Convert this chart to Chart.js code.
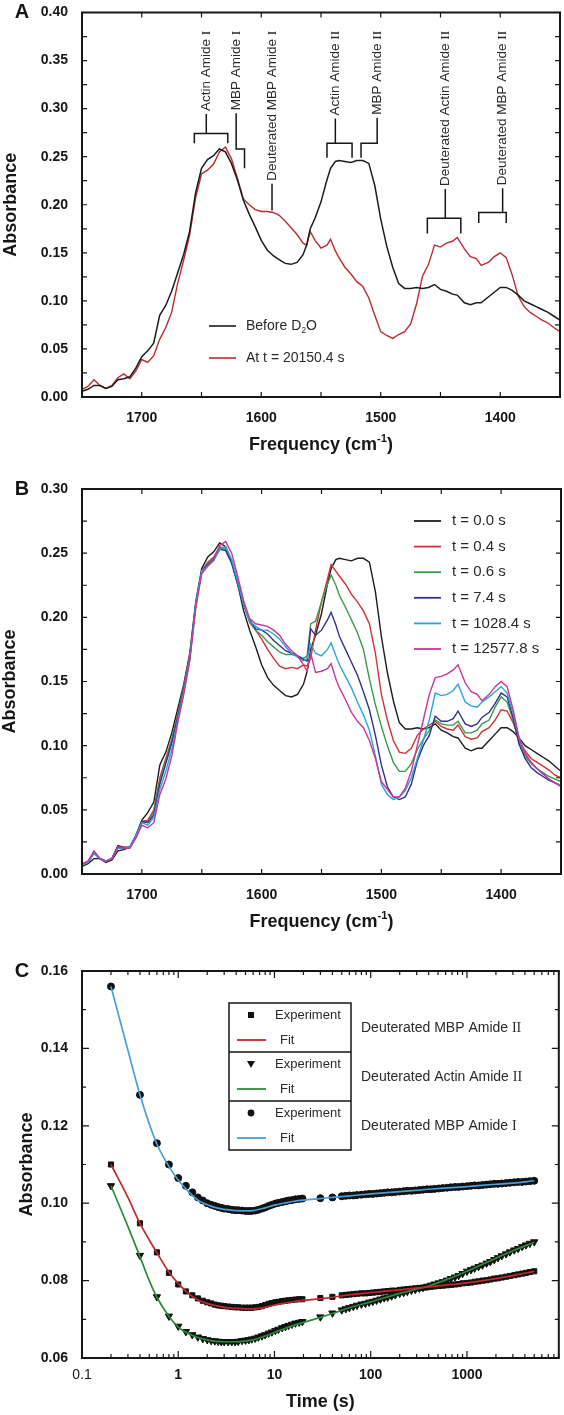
<!DOCTYPE html>
<html><head><meta charset="utf-8">
<script src="https://cdn.jsdelivr.net/npm/chart.js@4.4.1/dist/chart.umd.min.js"></script>
<style>
html,body{margin:0;padding:0;background:#fff;}
body{width:564px;height:1415px;position:relative;overflow:hidden;}
.p{position:absolute;left:0;width:564px;}
canvas{display:block;}
</style></head><body>
<div class="p" style="top:-10px;height:470px"><canvas id="cA"></canvas></div>
<div class="p" style="top:460px;height:475px"><canvas id="cB"></canvas></div>
<div class="p" style="top:935px;height:480px"><canvas id="cC"></canvas></div>
<script>
// ---------- DATA ----------
const freq = [1750,1745,1740,1735,1730,1725,1720,1715,1710,1705,
 1700,1695,1690,1685,1680,1675,1670,1665,1660,1655,
 1650,1645,1640,1635,1630,1625,1620,1615,1610,1605,
 1600,1595,1590,1585,1580,1575,1570,1565,1562,1559,
 1555,1550,1545,1542,1538,1535,1530,1525,1520,1515,
 1510,1505,1500,1495,1490,1485,1480,1475,1470,1465,
 1460,1455,1450,1445,1440,1436,1430,1425,1420,1416,
 1410,1405,1400,1395,1390,1385,1380,1375,1370,1365,
 1360,1355,1350];

const absBeforeD2O = [0.006,0.008,0.012,0.012,0.009,0.011,0.018,0.019,0.021,0.030,
 0.042,0.048,0.056,0.085,0.095,0.110,0.129,0.148,0.172,0.212,
 0.238,0.247,0.251,0.258,0.255,0.243,0.226,0.205,0.190,0.177,
 0.163,0.153,0.147,0.143,0.139,0.138,0.140,0.148,0.158,0.175,
 0.186,0.203,0.226,0.238,0.245,0.246,0.245,0.244,0.246,0.246,
 0.243,0.220,0.185,0.157,0.135,0.118,0.113,0.113,0.114,0.113,
 0.114,0.117,0.112,0.110,0.107,0.106,0.098,0.096,0.098,0.098,
 0.104,0.109,0.114,0.114,0.111,0.106,0.100,0.097,0.094,0.091,
 0.088,0.084,0.080];

const absAt20150s = [0.008,0.011,0.018,0.012,0.009,0.012,0.020,0.024,0.019,0.027,
 0.039,0.036,0.043,0.060,0.072,0.088,0.118,0.142,0.168,0.207,
 0.232,0.236,0.242,0.255,0.260,0.248,0.228,0.206,0.200,0.195,
 0.193,0.193,0.192,0.189,0.183,0.176,0.169,0.160,0.158,0.172,
 0.163,0.155,0.158,0.164,0.152,0.145,0.135,0.128,0.120,0.115,
 0.103,0.085,0.068,0.064,0.061,0.065,0.068,0.076,0.097,0.126,
 0.138,0.158,0.156,0.160,0.162,0.166,0.154,0.146,0.144,0.137,
 0.140,0.146,0.150,0.145,0.127,0.105,0.094,0.088,0.084,0.080,
 0.077,0.072,0.068];

const absT0s = absBeforeD2O;
const absT04s = [0.007,0.009,0.017,0.012,0.010,0.012,0.022,0.021,0.021,0.030,
 0.041,0.042,0.050,0.075,0.090,0.105,0.125,0.146,0.170,0.210,
 0.236,0.243,0.247,0.255,0.254,0.244,0.228,0.210,0.196,0.190,
 0.183,0.175,0.168,0.162,0.160,0.161,0.160,0.163,0.162,0.168,
 0.190,0.212,0.230,0.241,0.236,0.232,0.226,0.218,0.212,0.205,
 0.195,0.172,0.140,0.120,0.104,0.095,0.094,0.098,0.108,0.113,
 0.116,0.119,0.115,0.113,0.112,0.116,0.107,0.105,0.106,0.111,
 0.114,0.120,0.128,0.127,0.118,0.104,0.096,0.090,0.087,0.084,
 0.081,0.077,0.075];
const absT06s = [0.007,0.009,0.016,0.012,0.010,0.012,0.021,0.020,0.021,0.030,
 0.040,0.041,0.048,0.072,0.088,0.104,0.124,0.145,0.169,0.210,
 0.236,0.242,0.246,0.254,0.253,0.243,0.227,0.210,0.197,0.190,
 0.186,0.181,0.177,0.173,0.171,0.171,0.170,0.168,0.170,0.195,
 0.197,0.212,0.226,0.233,0.225,0.217,0.208,0.198,0.188,0.175,
 0.152,0.132,0.115,0.100,0.087,0.080,0.080,0.086,0.097,0.105,
 0.112,0.120,0.117,0.116,0.116,0.119,0.110,0.110,0.112,0.117,
 0.120,0.130,0.138,0.134,0.120,0.102,0.092,0.086,0.082,0.079,
 0.076,0.074,0.072];
const absT74s = [0.007,0.009,0.017,0.012,0.010,0.012,0.022,0.020,0.021,0.030,
 0.041,0.040,0.046,0.070,0.086,0.102,0.122,0.143,0.168,0.210,
 0.236,0.241,0.245,0.253,0.252,0.242,0.226,0.210,0.198,0.191,
 0.190,0.187,0.182,0.178,0.174,0.172,0.170,0.167,0.166,0.191,
 0.186,0.190,0.198,0.204,0.194,0.185,0.175,0.165,0.155,0.142,
 0.128,0.108,0.085,0.068,0.060,0.058,0.060,0.070,0.088,0.100,
 0.108,0.123,0.119,0.119,0.121,0.127,0.117,0.115,0.117,0.122,
 0.126,0.133,0.141,0.138,0.122,0.101,0.090,0.083,0.079,0.076,
 0.073,0.071,0.069];
const absT1028s = [0.007,0.009,0.016,0.012,0.010,0.012,0.020,0.020,0.021,0.030,
 0.040,0.038,0.044,0.066,0.080,0.097,0.120,0.142,0.168,0.210,
 0.236,0.240,0.244,0.253,0.255,0.245,0.228,0.210,0.197,0.193,
 0.190,0.190,0.187,0.183,0.177,0.172,0.169,0.166,0.168,0.179,
 0.172,0.170,0.175,0.180,0.170,0.163,0.154,0.145,0.134,0.124,
 0.112,0.092,0.070,0.062,0.058,0.060,0.065,0.075,0.090,0.104,
 0.120,0.141,0.139,0.140,0.143,0.148,0.134,0.131,0.130,0.134,
 0.138,0.142,0.146,0.141,0.125,0.106,0.094,0.087,0.082,0.078,
 0.074,0.071,0.069];
const absT12577s = [0.008,0.010,0.018,0.012,0.010,0.012,0.021,0.020,0.020,0.028,
 0.038,0.036,0.040,0.062,0.074,0.092,0.118,0.140,0.166,0.207,
 0.234,0.240,0.245,0.256,0.259,0.250,0.232,0.213,0.199,0.195,
 0.194,0.193,0.190,0.186,0.179,0.174,0.170,0.163,0.158,0.172,
 0.157,0.158,0.160,0.164,0.152,0.145,0.136,0.126,0.119,0.114,
 0.104,0.090,0.072,0.066,0.060,0.060,0.067,0.080,0.100,0.120,
 0.140,0.153,0.154,0.156,0.159,0.163,0.149,0.142,0.140,0.135,
 0.140,0.146,0.150,0.146,0.128,0.106,0.094,0.087,0.082,0.078,
 0.074,0.071,0.068];
const seriesBLabels = ['t = 0.0 s','t = 0.4 s','t = 0.6 s','t = 7.4 s','t = 1028.4 s','t = 12577.8 s'];

const timeS = [0.2,0.4,0.6,0.8,1,1.2,1.4,1.6,1.8,2,
 2.2,2.4,2.6,2.8,3,3.3,3.6,3.9,4.2,4.6,
 5,5.4,5.8,6.3,6.8,7.4,8,8.7,9.4,10.2,
 11,12,13,14,15.2,16.5,18,19.5,30,40,
 50,55,60,66,72,80,88,96,105,115,
 126,138,150,165,180,200,220,240,265,290,
 320,350,385,420,460,510,560,620,680,750,
 820,900,1000,1100,1200,1320,1450,1600,1750,1920,
 2100,2300,2550,2800,3100,3400,3750,4100,4500,5000];
const expMBPAmideI = [0.156,0.128,0.1155,0.110,0.1065,0.1045,0.1028,0.1015,0.1007,0.1000,
 0.0996,0.0993,0.0990,0.0988,0.0986,0.0985,0.0983,0.0982,0.0982,0.0981,
 0.0980,0.0980,0.0980,0.0981,0.0983,0.0986,0.0989,0.0993,0.0996,0.0999,
 0.1001,0.1003,0.1005,0.1007,0.1008,0.1010,0.1011,0.1012,0.1013,0.1015,
 0.1018,0.1019,0.1020,0.1020,0.1021,0.1022,0.1023,0.1024,0.1024,0.1025,
 0.1026,0.1027,0.1028,0.1028,0.1029,0.1030,0.1031,0.1032,0.1032,0.1033,
 0.1034,0.1035,0.1036,0.1036,0.1037,0.1038,0.1039,0.1040,0.1041,0.1042,
 0.1042,0.1043,0.1044,0.1045,0.1046,0.1046,0.1047,0.1048,0.1049,0.1050,
 0.1050,0.1051,0.1052,0.1053,0.1054,0.1055,0.1055,0.1056,0.1057,0.1058];
const expMBPAmideII = [0.110,0.0948,0.0873,0.0820,0.0790,0.0772,0.0762,0.0754,0.0748,0.0744,
 0.0741,0.0738,0.0736,0.0735,0.0734,0.0733,0.0732,0.0731,0.0731,0.0730,
 0.0730,0.0730,0.0730,0.0731,0.0732,0.0734,0.0737,0.0740,0.0742,0.0744,
 0.0745,0.0747,0.0748,0.0749,0.0750,0.0751,0.0752,0.0752,0.0755,0.0758,
 0.0762,0.0763,0.0764,0.0765,0.0766,0.0767,0.0767,0.0768,0.0769,0.0770,
 0.0771,0.0772,0.0773,0.0774,0.0774,0.0776,0.0777,0.0778,0.0779,0.0780,
 0.0781,0.0782,0.0783,0.0784,0.0785,0.0786,0.0787,0.0788,0.0789,0.0790,
 0.0791,0.0793,0.0794,0.0795,0.0797,0.0798,0.0800,0.0801,0.0803,0.0805,
 0.0806,0.0808,0.0810,0.0812,0.0814,0.0816,0.0818,0.0820,0.0822,0.0824];
const expActinAmideII = [0.1045,0.0865,0.0758,0.0708,0.0682,0.0668,0.0660,0.0654,0.0650,0.0647,
 0.0645,0.0644,0.0643,0.0642,0.0642,0.0642,0.0642,0.0642,0.0643,0.0645,
 0.0646,0.0647,0.0649,0.0651,0.0654,0.0657,0.0660,0.0664,0.0667,0.0671,
 0.0674,0.0678,0.0681,0.0684,0.0687,0.0690,0.0692,0.0694,0.0706,0.0716,
 0.0724,0.0727,0.0730,0.0733,0.0736,0.0739,0.0741,0.0744,0.0746,0.0749,
 0.0752,0.0755,0.0757,0.0760,0.0763,0.0767,0.0769,0.0772,0.0775,0.0777,
 0.0780,0.0782,0.0785,0.0788,0.0791,0.0794,0.0797,0.0801,0.0805,0.0809,
 0.0813,0.0818,0.0824,0.0828,0.0832,0.0836,0.0840,0.0845,0.0849,0.0854,
 0.0859,0.0864,0.0869,0.0874,0.0879,0.0883,0.0888,0.0892,0.0896,0.0900];

const fitTimes = [0.2,0.3,0.4,0.5,0.6,0.8,1,1.3,1.6,2,2.5,3,4,5,6,8,10,13,16,20,30,40,60,100,200,400,700,1000,2000,3000,5000];
const fitMBPAmideI = [0.156,0.1395,0.128,0.1205,0.1153,0.1095,0.106,0.1028,0.1008,0.0996,0.0988,0.0984,0.0981,0.0980,0.0981,0.0988,0.0995,0.1001,0.1005,0.1008,0.1012,0.1015,0.1019,0.1024,0.1030,0.1036,0.1040,0.1043,0.1049,0.1052,0.1058];
const fitMBPAmideII = [0.110,0.1015,0.0948,0.0905,0.0872,0.0822,0.0792,0.0765,0.0750,0.0741,0.0735,0.0731,0.0728,0.0727,0.0727,0.0731,0.0737,0.0742,0.0746,0.0749,0.0753,0.0757,0.0763,0.0769,0.0776,0.0784,0.0790,0.0794,0.0805,0.0813,0.0824];
const fitActinAmideII = [0.1045,0.094,0.0862,0.080,0.0757,0.0708,0.068,0.0662,0.0653,0.0647,0.0643,0.0642,0.0642,0.0644,0.0647,0.0657,0.0666,0.0677,0.0685,0.0692,0.0705,0.0715,0.0730,0.0745,0.0767,0.0786,0.0808,0.0824,0.0858,0.0877,0.0899];
const seriesCLabels = ['Deuterated MBP Amide II','Deuterated Actin Amide II','Deuterated MBP Amide I'];

const freqTicks = [1700,1600,1500,1400];
const absTicksA = [0,0.05,0.10,0.15,0.20,0.25,0.30,0.35,0.40];
const absTicksB = [0,0.05,0.10,0.15,0.20,0.25,0.30];
const absTicksC = [0.06,0.08,0.10,0.12,0.14,0.16];
const timeTicks = [0.1,1,10,100,1000];

// annotation labels of panel A (positions in data units)
const annLabels = ['Actin Amide I','MBP Amide I','Deuterated MBP Amide I','Actin Amide II','MBP Amide II','Deuterated Actin Amide II','Deuterated MBP Amide II'];
const annFreq = [1646,1621,1591,1538,1503,1446,1398];

// ---------- HELPERS ----------
const FONT = '"Liberation Sans", Arial, Helvetica, sans-serif';
const SERIF = '"Liberation Serif", "Times New Roman", serif';
const INK = '#161616';
const pts = (xs, ys) => xs.map((x, i) => ({x, y: ys[i]}));

function fontFor(p, size, weight) {
  const s = (p.sup || p.sub) ? size * 0.62 : size;
  return `${weight} ${s}px ${p.serif ? SERIF : FONT}`;
}
function richWidth(c, parts, size, weight) {
  let w = 0;
  parts.forEach(p => { c.font = fontFor(p, size, weight); w += c.measureText(p.t).width; });
  return w;
}
function drawRich(c, parts, x, y, size, weight, align) {
  const w = richWidth(c, parts, size, weight);
  let cx = align === 'center' ? x - w / 2 : (align === 'right' ? x - w : x);
  c.textAlign = 'left'; c.textBaseline = 'middle';
  parts.forEach(p => {
    c.font = fontFor(p, size, weight);
    const dy = p.sup ? -size * 0.32 : (p.sub ? size * 0.3 : 0);
    c.fillText(p.t, cx, y + dy);
    cx += c.measureText(p.t).width;
  });
  return w;
}
function romanParts(label) {
  const m = label.match(/^(.*\s)(I+)$/);
  return m ? [{t: m[1]}, {t: m[2], serif: true}] : [{t: label}];
}

function decor(cfg) {
  return {
    id: 'decor',
    afterDraw(chart) {
      const c = chart.ctx, a = chart.chartArea, X = chart.scales.x, Y = chart.scales.y;
      c.save();
      c.strokeStyle = INK; c.lineWidth = 1.2;
      c.beginPath();
      cfg.xTicks.forEach(([v, len]) => { const p = X.getPixelForValue(v); c.moveTo(p, a.bottom); c.lineTo(p, a.bottom - len); c.moveTo(p, a.top); c.lineTo(p, a.top + len); });
      cfg.yTicks.forEach(([v, len]) => { const p = Y.getPixelForValue(v); c.moveTo(a.left, p); c.lineTo(a.left + len, p); c.moveTo(a.right, p); c.lineTo(a.right - len, p); });
      c.stroke();
      c.lineWidth = 2;
      c.strokeRect(a.left, a.top, a.right - a.left, a.bottom - a.top);
      c.fillStyle = INK;
      c.save(); c.translate(cfg.yTitleX, (a.top + a.bottom) / 2); c.rotate(-Math.PI / 2);
      c.font = `bold 18px ${FONT}`; c.textAlign = 'center'; c.textBaseline = 'middle'; c.fillText('Absorbance', 0, 0);
      c.restore();
      drawRich(c, cfg.xTitle, (a.left + a.right) / 2, a.bottom + cfg.xTitleDy, 18, 'bold', 'center');
      c.font = `bold 20px ${FONT}`; c.textAlign = 'center'; c.textBaseline = 'middle';
      c.fillText(cfg.letter, 22, a.top);
      if (cfg.extra) cfg.extra(chart, c, a, X, Y);
      c.restore();
    }
  };
}

function every(lo, hi, step, len) { const r = []; for (let v = lo; v <= hi + 1e-9; v += step) r.push([+v.toFixed(4), len]); return r; }

const tickFont = {family: FONT, size: 14, weight: 'bold'};
function linX(padding, h) {
  return {type: 'linear', reverse: true, min: 1350, max: 1750,
    grid: {display: false, drawTicks: false}, border: {display: false},
    afterBuildTicks: s => { s.ticks = freqTicks.map(v => ({value: v})); },
    afterFit: s => { s.height = h; },
    ticks: {padding, color: INK, font: tickFont, maxRotation: 0, autoSkip: false, callback: v => String(v)}};
}
function linY(min, max, arr) {
  return {type: 'linear', min, max,
    grid: {display: false, drawTicks: false}, border: {display: false},
    afterBuildTicks: s => { s.ticks = arr.map(v => ({value: v})); },
    afterFit: s => { s.width = 82; },
    ticks: {padding: 14, color: INK, font: tickFont, autoSkip: false, callback: v => Number(v).toFixed(2)}};
}
const baseOpts = {responsive: true, maintainAspectRatio: false, animation: false,
  plugins: {legend: {display: false}, tooltip: {enabled: false}}};
const lineDs = (label, data, color, w) => ({label, data, borderColor: color, backgroundColor: color, borderWidth: w || 1.4, pointRadius: 0, tension: 0, fill: false});

// ---------- PANEL A ----------
new Chart(document.getElementById('cA'), {
  type: 'line',
  data: {datasets: [
    lineDs('Before D2O', pts(freq, absBeforeD2O), '#1c1c1c', 1.5),
    lineDs('At t = 20150.4 s', pts(freq, absAt20150s), '#bb2a2e', 1.4)
  ]},
  options: {...baseOpts, layout: {padding: {top: 22.5, right: 4, left: 0, bottom: 0}},
    scales: {x: linX(13, 63), y: linY(0, 0.40, absTicksA)}},
  plugins: [decor({
    letter: 'A', yTitleX: 11, xTitleDy: 48,
    xTitle: [{t: 'Frequency (cm'}, {t: '-1', sup: true}, {t: ')'}],
    xTicks: every(1350, 1750, 50, 5), yTicks: every(0, 0.40, 0.025, 5),
    extra: (chart, c, a, X, Y) => {
      const top = Y.getPixelForValue(0.381);
      const geo = [
        {type: 'br', f1: 1656, f2: 1628, yb: 0.274, yt: 0.264},
        {type: 'el', f2: 1614, yb: 0.258, yt: 0.238},
        {type: 'st', yb: 0.194},
        {type: 'br', f1: 1545, f2: 1524, yb: 0.264, yt: 0.249},
        {type: 'el', f2: 1516.5, yb: 0.264, yt: 0.249},
        {type: 'br', f1: 1461, f2: 1433, yb: 0.186, yt: 0.170},
        {type: 'br', f1: 1418, f2: 1395, yb: 0.192, yt: 0.181}
      ];
      c.strokeStyle = INK; c.lineWidth = 1.5;
      annLabels.forEach((lab, i) => {
        const x = X.getPixelForValue(annFreq[i]);
        const parts = romanParts(lab);
        const w = richWidth(c, parts, 13.5, 'normal');
        c.fillStyle = '#2a2a2a';
        c.save(); c.translate(x, top); c.rotate(-Math.PI / 2);
        drawRich(c, parts, -w, 0, 13.5, 'normal', 'left');
        c.restore();
        const g = geo[i];
        const y0 = top + w + 3, yb = Y.getPixelForValue(g.yb);
        c.beginPath(); c.moveTo(x, y0); c.lineTo(x, yb);
        if (g.type === 'br') {
          const x1 = X.getPixelForValue(g.f1), x2 = X.getPixelForValue(g.f2), yt = Y.getPixelForValue(g.yt);
          c.moveTo(x1, yt); c.lineTo(x1, yb); c.lineTo(x2, yb); c.lineTo(x2, yt);
        } else if (g.type === 'el') {
          const x2 = X.getPixelForValue(g.f2), yt = Y.getPixelForValue(g.yt);
          c.lineTo(x2, yb); c.lineTo(x2, yt);
        }
        c.stroke();
      });
      const ds = chart.data.datasets;
      const rows = [[a.top + 313.5, [{t: 'Before D'}, {t: '2', sub: true}, {t: 'O'}]], [a.top + 345.5, [{t: 'At t = 20150.4 s'}]]];
      rows.forEach(([y, parts], i) => {
        c.strokeStyle = ds[i].borderColor; c.lineWidth = 1.6;
        c.beginPath(); c.moveTo(209, y); c.lineTo(236, y); c.stroke();
        c.fillStyle = '#2a2a2a';
        drawRich(c, parts, 246, y, 14, 'normal', 'left');
      });
    }
  })]
});

// ---------- PANEL B ----------
const colorsB = ['#1c1c1c', '#cf3338', '#3b9a4a', '#34318c', '#2aa3df', '#c7369c'];
const seriesB = [absT0s, absT04s, absT06s, absT74s, absT1028s, absT12577s];
new Chart(document.getElementById('cB'), {
  type: 'line',
  data: {datasets: seriesB.map((s, i) => lineDs(seriesBLabels[i], pts(freq, s), colorsB[i], 1.4)).reverse()},
  options: {...baseOpts, layout: {padding: {top: 29, right: 3, left: 0, bottom: 0}},
    scales: {x: linX(13, 61), y: linY(0, 0.30, absTicksB)}},
  plugins: [decor({
    letter: 'B', yTitleX: 10, xTitleDy: 48,
    xTitle: [{t: 'Frequency (cm'}, {t: '-1', sup: true}, {t: ')'}],
    xTicks: every(1350, 1750, 50, 5), yTicks: every(0, 0.30, 0.025, 5),
    extra: (chart, c, a) => {
      seriesBLabels.forEach((lab, i) => {
        const y = a.top + 32 + i * 25.6;
        c.strokeStyle = colorsB[i]; c.lineWidth = 1.8;
        c.beginPath(); c.moveTo(414, y); c.lineTo(441, y); c.stroke();
        c.fillStyle = '#2a2a2a';
        drawRich(c, [{t: lab}], 452, y, 15, 'normal', 'left');
      });
    }
  })]
});

// ---------- PANEL C ----------
const fitColors = ['#c3282d', '#2f8b3a', '#4a9fd8'];
const expSeries = [expMBPAmideII, expActinAmideII, expMBPAmideI];
const fitSeries = [fitMBPAmideII, fitActinAmideII, fitMBPAmideI];
const markerStyles = [{s: 'rect', r: 3.6, rot: 0}, {s: 'triangle', r: 4.2, rot: 180}, {s: 'circle', r: 3.5, rot: 0}];
const cMinorX = [];
timeTicks.forEach(d => { for (let k = 2; k <= 9; k++) { if (k * d <= 9000) cMinorX.push([+(k * d).toPrecision(3), 4]); } });

new Chart(document.getElementById('cC'), {
  type: 'scatter',
  data: {datasets: [
    ...fitSeries.map((s, i) => ({type: 'line', label: 'Fit ' + seriesCLabels[i], data: pts(fitTimes, s), borderColor: fitColors[i], borderWidth: 1.7, pointRadius: 0, cubicInterpolationMode: 'monotone', fill: false})),
    ...expSeries.map((s, i) => ({type: 'scatter', label: 'Experiment ' + seriesCLabels[i], data: pts(timeS, s), pointStyle: markerStyles[i].s, pointRadius: markerStyles[i].r, pointRotation: markerStyles[i].rot, backgroundColor: '#111', borderColor: '#111', borderWidth: 1}))
  ]},
  options: {...baseOpts, layout: {padding: {top: 36, right: 2, left: 0, bottom: 0}},
    scales: {
      x: {type: 'logarithmic', min: 0.1, max: 9000,
        grid: {display: false, drawTicks: false}, border: {display: false},
        afterBuildTicks: s => { s.ticks = timeTicks.map(v => ({value: v})); },
        afterFit: s => { s.height = 57; },
        ticks: {padding: 9, color: INK, autoSkip: false, maxRotation: 0,
          font: ctx => ({family: FONT, size: 14, weight: (ctx.tick && ctx.tick.value === 0.1) ? 'normal' : 'bold'}),
          callback: v => String(v)}},
      y: linY(0.06, 0.16, absTicksC)
    }},
  plugins: [decor({
    letter: 'C', yTitleX: 27, xTitleDy: 44,
    xTitle: [{t: 'Time (s)'}],
    xTicks: timeTicks.map(v => [v, 7]).concat(cMinorX), yTicks: every(0.06, 0.16, 0.02, 7).concat(every(0.07, 0.15, 0.02, 4)),
    extra: (chart, c, a) => {
      const bx = 229, by = a.top + 32, bw = 122, sh = 49;
      c.strokeStyle = INK; c.lineWidth = 1.5;
      c.strokeRect(bx, by, bw, sh * 3);
      c.beginPath(); c.moveTo(bx, by + sh); c.lineTo(bx + bw, by + sh); c.moveTo(bx, by + 2 * sh); c.lineTo(bx + bw, by + 2 * sh); c.stroke();
      seriesCLabels.forEach((lab, i) => {
        const y0 = by + i * sh;
        const my = y0 + 12, fy = y0 + 37;
        c.fillStyle = '#111';
        const m = markerStyles[i];
        c.beginPath();
        if (m.s === 'rect') { c.rect(251 - 3, my - 3, 6, 6); }
        else if (m.s === 'triangle') { c.moveTo(251 - 4, my - 3); c.lineTo(251 + 4, my - 3); c.lineTo(251, my + 4); c.closePath(); }
        else { c.arc(251, my, 3.4, 0, Math.PI * 2); }
        c.fill();
        c.strokeStyle = fitColors[i]; c.lineWidth = 1.8;
        c.beginPath(); c.moveTo(237, fy); c.lineTo(266, fy); c.stroke();
        c.fillStyle = '#2a2a2a';
        drawRich(c, [{t: 'Experiment'}], 275, my, 13, 'normal', 'left');
        drawRich(c, [{t: 'Fit'}], 280, fy, 13, 'normal', 'left');
        drawRich(c, romanParts(lab), 361, y0 + 25, 14, 'normal', 'left');
      });
    }
  })]
});
</script>
</body></html>
